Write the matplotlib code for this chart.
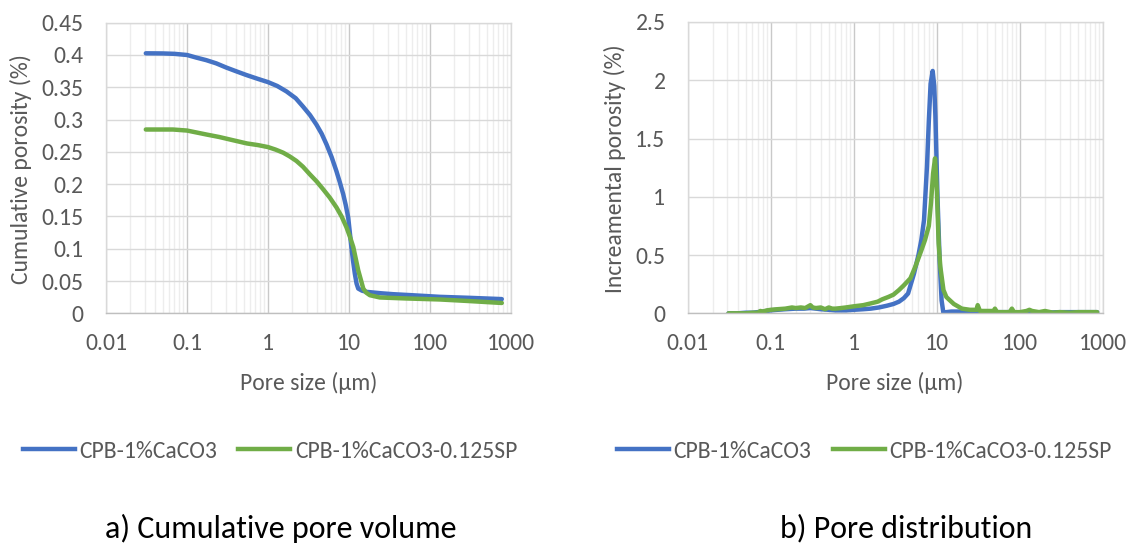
import matplotlib
matplotlib.use("Agg")
import matplotlib.pyplot as plt
from matplotlib.ticker import FixedLocator, NullFormatter
from matplotlib.lines import Line2D

plt.rcParams['font.family'] = ['Carlito', 'Lato', 'DejaVu Sans']

# ---- data -------------------------------------------------------------
series_names = ["CPB-1%CaCO3", "CPB-1%CaCO3-0.125SP"]
series_colors = ["#4472C4", "#70AD47"]

# cumulative porosity vs pore size
cum_x_a = [0.031, 0.05, 0.07, 0.1, 0.13, 0.173, 0.23, 0.306, 0.4, 0.54, 0.75,
           1.0, 1.3, 1.69, 2.2, 2.71, 3.3, 3.97, 4.6, 5.28, 6.1, 7.0, 7.7, 8.48,
           9.1, 9.77, 10.2, 10.7, 11.2, 11.8, 12.4, 13.0, 14.5, 16.5, 25, 35, 60,
           132, 300, 770]
cum_y_a = [0.4026, 0.4024, 0.4018, 0.400, 0.396, 0.392, 0.387, 0.3805, 0.375,
           0.369, 0.363, 0.358, 0.352, 0.3436, 0.333, 0.320, 0.307, 0.292, 0.278,
           0.2615, 0.242, 0.220, 0.203, 0.1845, 0.168, 0.1486, 0.127, 0.1025,
           0.082, 0.0614, 0.046, 0.0383, 0.035, 0.0332, 0.031, 0.0296, 0.028,
           0.0255, 0.024, 0.022]

cum_x_b = [0.031, 0.05, 0.067, 0.1, 0.173, 0.25, 0.37, 0.55, 0.75, 1.0, 1.24,
           1.54, 1.85, 2.25, 2.7, 3.28, 4.0, 4.8, 5.8, 7.0, 8.1, 9.3, 10.3, 11.3,
           12.1, 13.0, 14.0, 15.0, 16.3, 18.1, 24, 50, 132, 300, 770]
cum_y_b = [0.2846, 0.2846, 0.2846, 0.283, 0.2769, 0.273, 0.268, 0.263, 0.2605,
           0.2574, 0.2535, 0.2487, 0.243, 0.2358, 0.227, 0.2153, 0.204, 0.192,
           0.179, 0.164, 0.150, 0.1333, 0.118, 0.1025, 0.085, 0.0666, 0.052,
           0.0383, 0.032, 0.028, 0.0245, 0.023, 0.0214, 0.019, 0.016]

# incremental porosity vs pore size
inc_x_a = [0.031, 0.04, 0.05, 0.06, 0.07, 0.08, 0.09, 0.1, 0.12, 0.15, 0.2, 0.25,
           0.3, 0.35, 0.4, 0.5, 0.6, 0.7, 0.8, 1.0, 1.3, 1.6, 2.0, 2.5, 3.0, 3.5,
           4.0, 4.5, 5.3, 6.0, 6.5, 7.0, 7.6, 8.0, 8.4, 8.9, 9.3, 9.6, 10.2, 10.8,
           11.4, 12.0, 13, 15, 20, 30, 50, 80, 120, 200, 300, 500, 850]
inc_y_a = [0.0, 0.0, 0.005, 0.005, 0.01, 0.015, 0.02, 0.025, 0.03, 0.035, 0.04,
           0.04, 0.045, 0.04, 0.035, 0.03, 0.025, 0.025, 0.025, 0.03, 0.035, 0.04,
           0.05, 0.065, 0.08, 0.10, 0.13, 0.17, 0.34, 0.50, 0.63, 0.80, 1.26,
           1.65, 1.97, 2.08, 1.95, 1.69, 0.97, 0.45, 0.11, 0.0, 0.01, 0.015,
           0.015, 0.01, 0.01, 0.01, 0.005, 0.005, 0.01, 0.01, 0.01]

inc_x_b = [0.031, 0.04, 0.05, 0.06, 0.07, 0.075, 0.08, 0.09, 0.1, 0.12, 0.15,
           0.18, 0.2, 0.23, 0.26, 0.3, 0.32, 0.35, 0.4, 0.45, 0.5, 0.55, 0.6, 0.7,
           0.8, 1.0, 1.3, 1.6, 1.94, 2.2, 2.6, 3.0, 3.5, 4.0, 4.8, 5.5, 6.5, 7.2,
           8.0, 8.5, 9.0, 9.5, 10.0, 10.5, 11.0, 12.0, 13.0, 13.9, 16, 20, 25, 30,
           31, 33, 40, 48, 50, 53, 60, 75, 80, 85, 100, 120, 130, 140, 170, 200,
           250, 300, 400, 500, 850]
inc_y_b = [0.0, 0.0, 0.0, 0.005, 0.005, 0.02, 0.015, 0.025, 0.03, 0.035, 0.04,
           0.05, 0.045, 0.05, 0.045, 0.07, 0.05, 0.045, 0.05, 0.035, 0.05, 0.04,
           0.04, 0.045, 0.05, 0.06, 0.07, 0.085, 0.10, 0.12, 0.14, 0.16, 0.20,
           0.24, 0.30, 0.40, 0.54, 0.63, 0.75, 0.95, 1.20, 1.33, 1.05, 0.60, 0.40,
           0.20, 0.14, 0.12, 0.08, 0.04, 0.03, 0.03, 0.07, 0.02, 0.02, 0.02, 0.04,
           0.01, 0.01, 0.01, 0.04, 0.01, 0.01, 0.02, 0.03, 0.02, 0.01, 0.02,
           0.005, 0.01, 0.005, 0.01, 0.01]

x_ticks = [0.01, 0.1, 1, 10, 100, 1000]
x_tick_labels = ["0.01", "0.1", "1", "10", "100", "1000"]
cum_ticks = [0, 0.05, 0.1, 0.15, 0.2, 0.25, 0.3, 0.35, 0.4, 0.45]
cum_tick_labels = ["0", "0.05", "0.1", "0.15", "0.2", "0.25", "0.3", "0.35", "0.4", "0.45"]
inc_ticks = [0, 0.5, 1, 1.5, 2, 2.5]
inc_tick_labels = ["0", "0.5", "1", "1.5", "2", "2.5"]

x_label = "Pore size (µm)"
cum_label = "Cumulative porosity (%)"
inc_label = "Increamental porosity (%)"
captions = ["a) Cumulative pore volume", "b) Pore distribution"]

# ---- figure -----------------------------------------------------------
W, H = 1132, 544
fig = plt.figure(figsize=(W / 100, H / 100), dpi=100)
TXT = "#595959"
FS = 17


def px_axes(x0, x1, y0, y1):
    return fig.add_axes([x0 / W, 1 - y1 / H, (x1 - x0) / W, (y1 - y0) / H])


def style(ax, yticks, ylabels, ymax):
    ax.set_xscale("log")
    ax.set_xlim(0.01, 1000)
    ax.set_ylim(0, ymax)
    ax.xaxis.set_major_locator(FixedLocator(x_ticks))
    ax.set_xticklabels(x_tick_labels)
    minors = [m * 10.0 ** e for e in range(-2, 3) for m in range(2, 10)]
    ax.xaxis.set_minor_locator(FixedLocator(minors))
    ax.xaxis.set_minor_formatter(NullFormatter())
    ax.set_yticks(yticks)
    ax.set_yticklabels(ylabels)
    ax.grid(which="major", axis="x", color="#c9c9c9", lw=1.0)
    ax.grid(which="minor", axis="x", color="#ededed", lw=1.0)
    ax.grid(which="major", axis="y", color="#d9d9d9", lw=1.0)
    ax.set_axisbelow(True)
    ax.tick_params(which="both", length=0, colors=TXT, labelsize=FS)
    ax.tick_params(axis="x", pad=14)
    ax.tick_params(axis="y", pad=16)
    for s in ax.spines.values():
        s.set_color("#d9d9d9")
        s.set_linewidth(1.0)
    ax.spines["bottom"].set_color("#bfbfbf")


ax1 = px_axes(106, 511, 22.7, 313.3)
style(ax1, cum_ticks, cum_tick_labels, 0.45)
ax1.plot(cum_x_a, cum_y_a, color=series_colors[0], lw=3.2, solid_capstyle="round",
         solid_joinstyle="round")
ax1.plot(cum_x_b, cum_y_b, color=series_colors[1], lw=3.2, solid_capstyle="round",
         solid_joinstyle="round")

ax2 = px_axes(687.7, 1103, 22.0, 313.3)
style(ax2, inc_ticks, inc_tick_labels, 2.5)
ax2.plot(inc_x_a, inc_y_a, color=series_colors[0], lw=3.2, solid_capstyle="round",
         solid_joinstyle="round")
ax2.plot(inc_x_b, inc_y_b, color=series_colors[1], lw=3.2, solid_capstyle="round",
         solid_joinstyle="round")

# axis titles
fig.text(308.5 / W, 1 - 383 / H, x_label, ha="center", va="center", color=TXT, fontsize=FS)
fig.text(895 / W, 1 - 383 / H, x_label, ha="center", va="center", color=TXT, fontsize=FS)
fig.text(21 / W, 1 - 169 / H, cum_label, ha="center", va="center", rotation=90,
         color=TXT, fontsize=FS)
fig.text(615 / W, 1 - 169 / H, inc_label, ha="center", va="center", rotation=90,
         color=TXT, fontsize=FS)

# legends
handles = [Line2D([], [], color=c, lw=3.2) for c in series_colors]
for cx in (270, 864.5):
    fig.legend(handles, series_names, loc="center", bbox_to_anchor=(cx / W, 1 - 451 / H),
               ncol=2, frameon=False, fontsize=FS, labelcolor=TXT, handlelength=2.2,
               handletextpad=0.2, columnspacing=0.9, borderpad=0, borderaxespad=0)

# panel captions
fig.text(281 / W, 1 - 528 / H, captions[0], ha="center", va="center", color="black", fontsize=23)
fig.text(906 / W, 1 - 528 / H, captions[1], ha="center", va="center", color="black", fontsize=23)

fig.savefig("out.png", dpi=100, facecolor="white")
